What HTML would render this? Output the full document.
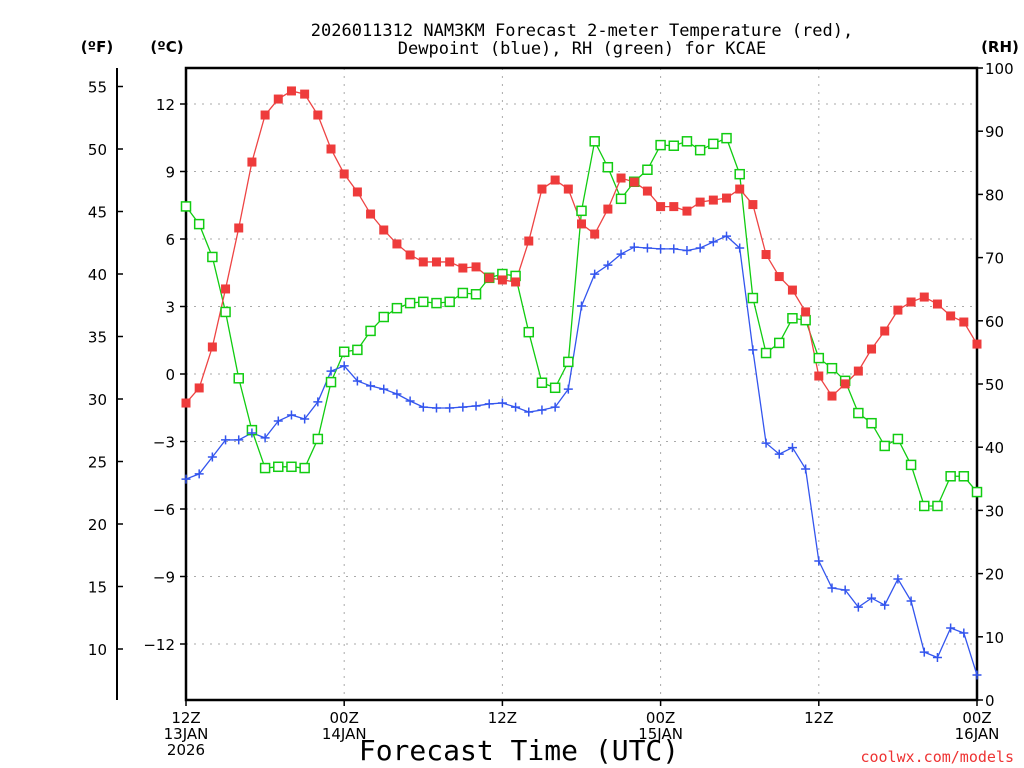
<!DOCTYPE html>
<html><head><meta charset="utf-8">
<style>
html,body{margin:0;padding:0;background:#fff;}
svg{display:block;font-family:"DejaVu Sans","Liberation Sans",sans-serif;}
</style></head>
<body>
<svg id="chart" width="1024" height="768" viewBox="0 0 1024 768">
<g id="grid"></g>
<g id="axes"></g>
<g id="series"></g>
<text x="582" y="36" text-anchor="middle" font-size="17" font-family="DejaVu Sans Mono, monospace">2026011312 NAM3KM Forecast 2-meter Temperature (red),</text>
<text x="582" y="54" text-anchor="middle" font-size="17" font-family="DejaVu Sans Mono, monospace">Dewpoint (blue), RH (green) for KCAE</text>
<text x="97" y="52" text-anchor="middle" font-size="15" font-weight="bold">(ºF)</text>
<text x="167" y="52" text-anchor="middle" font-size="15" font-weight="bold">(ºC)</text>
<text x="1000" y="52" text-anchor="middle" font-size="15" font-weight="bold">(RH)</text>
<text x="519" y="760" text-anchor="middle" font-size="28" font-family="DejaVu Sans Mono, monospace">Forecast Time (UTC)</text>
<text x="1014" y="762" text-anchor="end" font-size="15" fill="#ee3333" font-family="DejaVu Sans Mono, monospace">coolwx.com/models</text>
</svg>
<script>
const hours = Array.from({length:61},(_,i)=>i);
const tempC = [-1.29,-0.62,1.2,3.78,6.49,9.42,11.51,12.22,12.58,12.44,11.51,10.0,8.89,8.09,7.11,6.4,5.78,5.29,4.98,4.98,4.98,4.71,4.76,4.27,4.18,4.09,5.91,8.22,8.62,8.22,6.67,6.22,7.33,8.71,8.53,8.13,7.44,7.44,7.24,7.64,7.73,7.82,8.22,7.53,5.31,4.33,3.73,2.76,-0.09,-0.98,-0.44,0.13,1.11,1.91,2.84,3.2,3.42,3.11,2.58,2.31,1.33];
const dewC = [-4.67,-4.44,-3.69,-2.93,-2.93,-2.62,-2.84,-2.09,-1.82,-2.0,-1.24,0.13,0.36,-0.31,-0.53,-0.67,-0.89,-1.2,-1.47,-1.51,-1.51,-1.47,-1.42,-1.33,-1.29,-1.47,-1.69,-1.6,-1.47,-0.67,3.02,4.44,4.84,5.33,5.64,5.6,5.56,5.56,5.49,5.6,5.87,6.13,5.6,1.07,-3.07,-3.56,-3.27,-4.22,-8.31,-9.51,-9.6,-10.36,-9.96,-10.27,-9.11,-10.09,-12.36,-12.6,-11.29,-11.51,-13.38];
const rh = [78.1,75.3,70.1,61.4,50.9,42.7,36.7,36.9,36.9,36.7,41.3,50.3,55.1,55.4,58.4,60.6,62.0,62.8,63.0,62.8,63.0,64.4,64.2,66.8,67.4,67.1,58.2,50.2,49.4,53.5,77.4,88.4,84.3,79.3,82.0,83.9,87.8,87.7,88.4,87.0,88.0,88.9,83.2,63.6,54.9,56.5,60.4,60.1,54.1,52.5,50.5,45.4,43.8,40.2,41.3,37.2,30.7,30.7,35.4,35.4,32.9];
const cTicks = [12,9,6,3,0,-3,-6,-9,-12];
const fTicks = [55,50,45,40,35,30,25,20,15,10];
const rhTicks = [100,90,80,70,60,50,40,30,20,10,0];
const xTickHours = [0,12,24,36,48,60];
const xTickLabels = [["12Z","13JAN","2026"],["00Z","14JAN"],["12Z"],["00Z","15JAN"],["12Z"],["00Z","16JAN"]];

const L=186,R=977,T=68,B=700;
const xs=h=>L+(R-L)*h/60;
const yC=c=>374-c*22.5;
const yF=f=>yC((f-32)/1.8);
const yRH=v=>B-(B-T)*v/100;
const NS="http://www.w3.org/2000/svg";
function mk(parent,tag,attrs,text){const e=document.createElementNS(NS,tag);for(const k in attrs)e.setAttribute(k,attrs[k]);if(text!==undefined)e.textContent=text;parent.appendChild(e);return e;}
const grid=document.getElementById('grid'),axes=document.getElementById('axes'),series=document.getElementById('series');

cTicks.forEach(c=>{
  const g=mk(grid,'line',{x1:L,x2:R,y1:yC(c),y2:yC(c),stroke:'#aaa','stroke-dasharray':'2,6'});
  
  
  const t=mk(axes,'line',{x1:L-6,x2:L,y1:yC(c),y2:yC(c),stroke:'#000','stroke-width':1.5});
  
  
  const lb=mk(axes,'text',{x:175,y:yC(c)+6,'text-anchor':'end','font-size':15},c<0?'\u2212'+(-c):String(c));
  
  
});
xTickHours.forEach((h,i)=>{
  if(h>0&&h<60){const g=mk(grid,'line',{x1:xs(h),x2:xs(h),y1:T,y2:B,stroke:'#aaa','stroke-dasharray':'2,6'});
  
  }
  const t=mk(axes,'line',{x1:xs(h),x2:xs(h),y1:B,y2:B+6,stroke:'#000','stroke-width':1.5});
  
  
  xTickLabels[i].forEach((s,j)=>{
    const lb=mk(axes,'text',{x:xs(h),y:723+j*16,'text-anchor':'middle','font-size':15},s);
    
    
  });
});
fTicks.forEach(f=>{
  const t=mk(axes,'line',{x1:117,x2:123,y1:yF(f),y2:yF(f),stroke:'#000','stroke-width':1.5});
  
  
  const lb=mk(axes,'text',{x:107,y:yF(f)+6,'text-anchor':'end','font-size':15},String(f));
  
  
});
rhTicks.forEach(v=>{
  const t=mk(axes,'line',{x1:R,x2:R+6,y1:yRH(v),y2:yRH(v),stroke:'#000','stroke-width':1.5});
  
  
  const lb=mk(axes,'text',{x:985,y:yRH(v)+6,'text-anchor':'start','font-size':15},String(v));
  
  
});
const fl=mk(axes,'line',{x1:117,x2:117,y1:68,y2:700,stroke:'#000','stroke-width':2});


const frame=mk(axes,'rect',{x:L,y:T,width:R-L,height:B-T,fill:'none',stroke:'#000','stroke-width':2.5});



function line(vals,yf,color,name){
  const p=mk(series,'polyline',{points:vals.map((v,i)=>xs(hours[i])+','+yf(v)).join(' '),fill:'none',stroke:color,'stroke-width':1.3});
  
  
}
line(rh,yRH,'#11cc11','rh-line');
line(tempC,yC,'#ee4444','temperature-line');
line(dewC,yC,'#3355ee','dewpoint-line');
rh.forEach((v,i)=>{
  const m=mk(series,'rect',{x:xs(hours[i])-4.5,y:yRH(v)-4.5,width:9,height:9,fill:'#fff',stroke:'#11cc11','stroke-width':1.5});
  
  
});
tempC.forEach((v,i)=>{
  const m=mk(series,'rect',{x:xs(hours[i])-4.5,y:yC(v)-4.5,width:9,height:9,fill:'#ee3b3b'});
  
  
});
dewC.forEach((v,i)=>{
  const x=xs(hours[i]),y=yC(v);
  const m=mk(series,'path',{d:`M${x-4.5},${y}H${x+4.5}M${x},${y-4.5}V${y+4.5}`,stroke:'#3355ee','stroke-width':1.5});
  
  
});
</script>
</body></html>
